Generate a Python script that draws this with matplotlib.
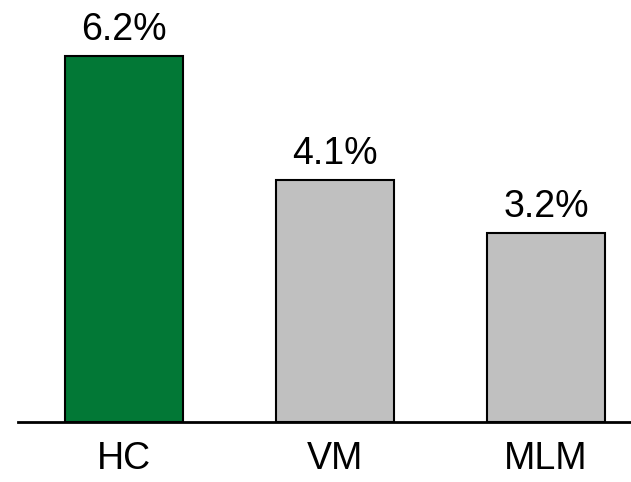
import matplotlib.pyplot as plt

# Share of total by method
methods = ["HC", "VM", "MLM"]
shares = [6.2, 4.1, 3.2]
bar_colors = ["#027836", "#c0c0c0", "#c0c0c0"]

plt.rcParams["font.family"] = ["Liberation Sans", "DejaVu Sans"]

fig = plt.figure(figsize=(6.31, 4.82), dpi=100)
ax = fig.add_axes([18 / 631, 1 - 422 / 482, 1 - 18 / 631, 422 / 482])

x = range(len(methods))
bars = ax.bar(x, shares, width=0.56, color=bar_colors, edgecolor="black", linewidth=1.5, zorder=2)

for bar, val in zip(bars, shares):
    ax.annotate(f"{val}%", (bar.get_x() + bar.get_width() / 2, val),
                xytext=(0, 5.5), textcoords="offset points",
                ha="center", va="bottom", fontsize=27)

ax.set_xlim(-0.502, 2.403)
ax.set_ylim(0, 6.2 * 422 / 366)
ax.set_xticks(list(x))
ax.set_xticklabels(methods, fontsize=27)
ax.tick_params(axis="x", length=0, pad=14)
ax.set_yticks([])

for side in ["top", "right", "left"]:
    ax.spines[side].set_visible(False)
ax.spines["bottom"].set_linewidth(2)
ax.patch.set_alpha(0)

fig.savefig("out.png", dpi=100)
